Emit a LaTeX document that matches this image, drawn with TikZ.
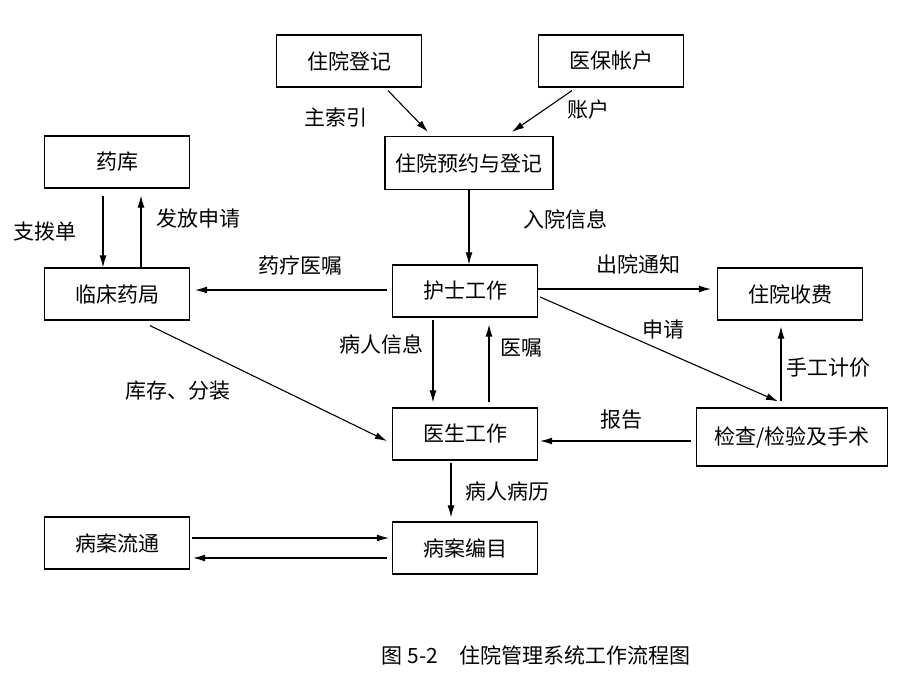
\documentclass[tikz,border=0pt]{standalone}
\usepackage{fontspec}
\setmainfont{Noto Sans CJK SC}
\usepackage{tikz}
\usetikzlibrary{arrows.meta}

\begin{document}
\begin{tikzpicture}[
    x=1pt, y=-1pt,
    every node/.style={font=\fontsize{21pt}{25pt}\selectfont},
    unit/.style={rectangle, draw, line width=1.2pt, minimum width=145pt, minimum height=52pt, inner sep=0pt},
    arrow/.style={-{Latex[length=12pt,width=7pt]}, line width=1.1pt},
    note/.style={inner sep=2pt}
]
\useasboundingbox (0,0) rectangle (920,690);

% boxes
\node[unit] (reg) at (349,61) {住院登记};
\node[unit] (acct) at (611,61) {医保帐户};
\node[unit, minimum width=168pt, minimum height=53pt] (book) at (469,163) {住院预约与登记};
\node[unit] (pharm) at (117,162) {药库};
\node[unit] (ward) at (117,294) {临床药局};
\node[unit] (nurse) at (465,291) {护士工作};
\node[unit] (fee) at (790,294) {住院收费};
\node[unit] (doc) at (465,434) {医生工作};
\node[unit, minimum width=191pt, minimum height=58pt] (exam) at (792,437) {检查/检验及手术};
\node[unit] (circ) at (117,543) {病案流通};
\node[unit] (cat) at (465,548) {病案编目};

% connectors
\draw[arrow] ([xshift=39pt,yshift=-3pt]reg.south) -- node[note, pos=0.65, left=44pt] {主索引} ([xshift=-41pt,yshift=4pt]book.north);
\draw[arrow] ([xshift=-39pt,yshift=-3pt]acct.south) -- node[note, pos=0.47, right=21pt] {账户} ([xshift=43pt,yshift=4pt]book.north);
\draw[arrow] (book.south) -- node[note, pos=0.4, right=52pt] {入院信息} (book.south |- nurse.north);

\draw[arrow] ([xshift=-14pt,yshift=-7pt]pharm.south) -- node[note, left=24pt] {支拨单} ([xshift=-14pt]pharm.south |- ward.north);
\draw[arrow] ([xshift=24pt]ward.north) -- node[note, pos=0.68, right=13pt] {发放申请} ([xshift=24pt,yshift=-7pt]pharm.south);

\draw[arrow] ([xshift=-5pt,yshift=1pt]nurse.west) -- node[note, pos=0.45, above=12pt] {药疗医嘱} ([xshift=5pt,yshift=1pt]nurse.west -| ward.east);
\draw[arrow] ([yshift=2pt]nurse.east) -- node[note, pos=0.58, above=12pt] {出院通知} ([xshift=-6pt,yshift=2pt]nurse.east -| fee.west);
\draw[arrow] ([xshift=2pt,yshift=-6pt]nurse.east) -- node[note, pos=0.52, above=10pt] {申请} ([xshift=-14pt,yshift=6pt]exam.north);
\draw[arrow] ([xshift=-11pt,yshift=6pt]exam.north) -- node[note, pos=0.45, right=3pt] {手工计价} ([xshift=-11pt,yshift=-6pt]exam.north |- fee.south);
\draw[arrow] ([xshift=-5pt,yshift=-4pt]exam.west) -- node[note, pos=0.46, above=9pt] {报告} ([xshift=2pt,yshift=-4pt]exam.west -| doc.east);

\draw[arrow] ([xshift=-32pt,yshift=-2pt]nurse.south) -- node[note, pos=0.3, left=7pt] {病人信息} ([xshift=-32pt,yshift=5pt]doc.north);
\draw[arrow] ([xshift=24pt,yshift=5pt]doc.north) -- node[note, pos=0.7, right=9pt] {医嘱} ([xshift=24pt,yshift=-7pt]nurse.south);

\draw[arrow] ([xshift=33pt,yshift=-5pt]ward.south) -- node[note, pos=0.35, anchor=north east, yshift=-12pt] {库存、分装} ([xshift=-5pt,yshift=-7pt]doc.west);
\draw[arrow] ([xshift=-14pt,yshift=-2pt]doc.south) -- node[note, pos=0.53, right=12pt] {病人病历} ([xshift=-14pt,yshift=4pt]doc.south |- cat.north);

\draw[arrow] ([xshift=2pt,yshift=5pt]circ.east) -- ([xshift=-3pt,yshift=5pt]circ.east -| cat.west);
\draw[arrow] ([xshift=-5pt,yshift=-10pt]cat.west) -- ([xshift=3pt,yshift=-10pt]cat.west -| circ.east);

% caption
\node (caption) at (536,655) {图~5-2\quad 住院管理系统工作流程图};

\end{tikzpicture}
\end{document}
